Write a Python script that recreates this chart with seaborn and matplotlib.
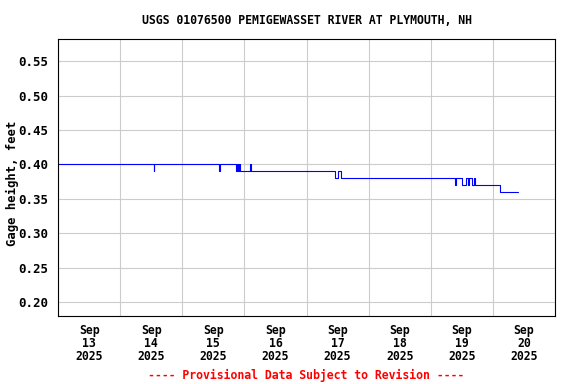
import pandas as pd
import numpy as np
import matplotlib
matplotlib.use('Agg')
import matplotlib.pyplot as plt
import seaborn as sns

# Gage height change points, step series
change_times = [
    '2025-09-13 00:00', '2025-09-14 13:00', '2025-09-14 13:15',
    '2025-09-15 14:15', '2025-09-15 14:30', '2025-09-15 20:45',
    '2025-09-15 21:00', '2025-09-15 21:30', '2025-09-15 21:45',
    '2025-09-15 22:15', '2025-09-15 22:30', '2025-09-16 02:15',
    '2025-09-16 02:30', '2025-09-17 11:00', '2025-09-17 12:00',
    '2025-09-17 12:45', '2025-09-17 13:30', '2025-09-19 09:30',
    '2025-09-19 09:45', '2025-09-19 12:15', '2025-09-19 13:45',
    '2025-09-19 14:15', '2025-09-19 14:45', '2025-09-19 15:45',
    '2025-09-19 16:45', '2025-09-19 17:00', '2025-09-19 17:45',
    '2025-09-20 02:45', '2025-09-20 09:45',
]
change_values = [
    0.40, 0.39, 0.40,
    0.39, 0.40, 0.39,
    0.40, 0.39, 0.40,
    0.39, 0.39, 0.40,
    0.39, 0.38, 0.39,
    0.39, 0.38, 0.37,
    0.38, 0.37, 0.38,
    0.37, 0.38, 0.37,
    0.38, 0.37, 0.37,
    0.36, 0.36,
]

day_labels = ['Sep\n13\n2025', 'Sep\n14\n2025', 'Sep\n15\n2025', 'Sep\n16\n2025',
              'Sep\n17\n2025', 'Sep\n18\n2025', 'Sep\n19\n2025', 'Sep\n20\n2025']
y_ticks = [0.20, 0.25, 0.30, 0.35, 0.40, 0.45, 0.50, 0.55]

df = pd.DataFrame({'time': pd.to_datetime(change_times), 'gage': change_values})

sns.set_style('white')
plt.rcParams['font.family'] = ['DejaVu Sans Mono']
plt.rcParams['font.weight'] = 'bold'
plt.rcParams['text.color'] = 'black'
plt.rcParams['axes.labelcolor'] = 'black'
plt.rcParams['xtick.color'] = 'black'
plt.rcParams['ytick.color'] = 'black'

fig = plt.figure(figsize=(5.76, 3.84), dpi=100)
ax = fig.add_axes([58/576, 1-316/384, (555-58)/576, (316-39)/384])

sns.lineplot(data=df, x='time', y='gage', drawstyle='steps-post',
             color='#0000ff', linewidth=0.8, ax=ax)

start = pd.Timestamp('2025-09-13')
midnights = pd.date_range(start, periods=9, freq='D')
noons = midnights[:-1] + pd.Timedelta(hours=12)

ax.set_xlim(start, start + pd.Timedelta(days=8))
ax.set_ylim(0.18, 0.582)

ax.set_xticks(midnights)
ax.set_xticklabels([])
ax.set_xticks(noons, minor=True)
ax.set_xticklabels(day_labels, minor=True, fontsize=8.3, fontweight='bold',
                   linespacing=1.0)
ax.set_yticks(y_ticks)
ax.set_yticklabels([f'{v:.2f}' for v in y_ticks], fontsize=9, fontweight='bold')
ax.tick_params(axis='both', which='both', length=0)
ax.tick_params(axis='x', which='minor', pad=6)
ax.tick_params(axis='y', pad=7)

ax.grid(True, which='major', color='#cccccc', linewidth=0.8)
ax.set_axisbelow(True)
for s in ax.spines.values():
    s.set_color('black')
    s.set_linewidth(0.8)

ax.set_xlabel('')
ax.set_ylabel('Gage height, feet', fontsize=8.8, fontweight='bold', va='center')
ax.yaxis.set_label_coords(-46/497, 0.48)
ax.set_title('USGS 01076500 PEMIGEWASSET RIVER AT PLYMOUTH, NH',
             fontsize=8.3, fontweight='bold', pad=11)

fig.text(306/576, 1-375/384, '---- Provisional Data Subject to Revision ----',
         color='red', fontsize=8.3, fontweight='bold', ha='center', va='center')

fig.savefig('out.png', dpi=100)
